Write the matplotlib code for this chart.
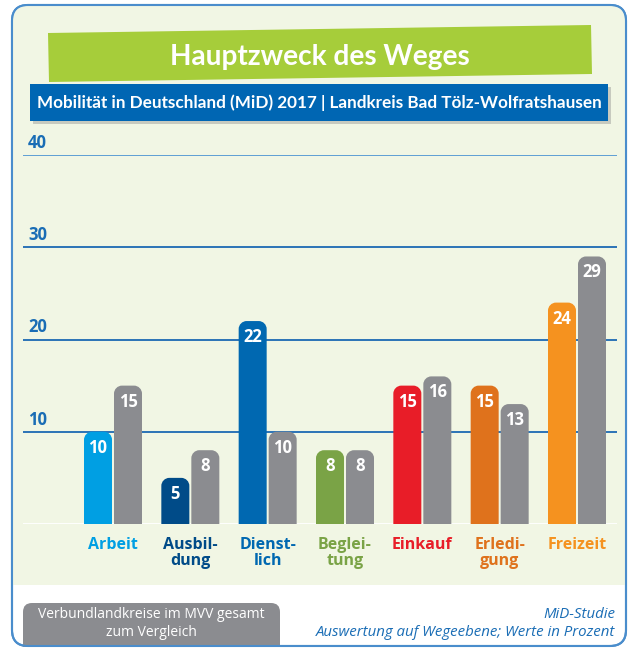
import numpy as np
import matplotlib
matplotlib.use('Agg')
import matplotlib.pyplot as plt
from matplotlib.path import Path
from matplotlib.patches import PathPatch, Polygon, FancyBboxPatch, Rectangle

# Daten (Werte in Prozent)
kategorien = ['Arbeit', 'Ausbil-\ndung', 'Dienst-\nlich', 'Beglei-\ntung',
              'Einkauf', 'Erledi-\ngung', 'Freizeit']
landkreis = [10, 5, 22, 8, 15, 15, 24]
mvv_gesamt = [15, 8, 10, 8, 16, 13, 29]
farben = ['#009fe3', '#004b88', '#0068b1', '#7aa346',
          '#e81d28', '#df721c', '#f5921f']
grau = '#8b8c90'
y_ticks = [10, 20, 30, 40]

W, H = 630, 650
plt.rcParams['font.family'] = ['Open Sans', 'DejaVu Sans']
fig = plt.figure(figsize=(W / 100, H / 100), dpi=100)
renderer = fig.canvas.get_renderer()


def auf_breite(txt, breite_px):
    # Schriftgröße so anpassen, dass der Text die Zielbreite hat
    for _ in range(3):
        b = txt.get_window_extent(renderer).width
        txt.set_fontsize(txt.get_fontsize() * breite_px / b)


# Hintergrund-Ebene in Pixelkoordinaten
bg = fig.add_axes([0, 0, 1, 1])
bg.set_xlim(0, W)
bg.set_ylim(H, 0)
bg.axis('off')
bg.add_patch(FancyBboxPatch((12, 5), 614, 641, boxstyle='round,pad=0,rounding_size=16',
                            fc='white', ec='#4a8dcc', lw=1.5, zorder=0))
bg.add_patch(FancyBboxPatch((12.8, 5.8), 612.4, 579, boxstyle='round,pad=0,rounding_size=15',
                            fc='#f1f6e4', ec='none', zorder=0.5))
bg.add_patch(Rectangle((12.8, 560), 612.4, 25, fc='#f1f6e4', ec='none', zorder=0.5))

# Titel-Banner
schmal = dict(family=['Lato', 'DejaVu Sans'], fontweight='bold')
bg.add_patch(Polygon([(48, 33), (591, 25), (592, 74), (49, 82)], closed=True,
                     fc='#a6cd3a', ec='none', zorder=1))
titel = bg.text(320, 57, 'Hauptzweck des Weges', color='white', fontsize=24,
                ha='center', va='center', zorder=3, **schmal)
auf_breite(titel, 300)
bg.add_patch(Rectangle((33, 87), 578, 37, fc='#7a7a7a', ec='none', alpha=0.35, zorder=1.5))
bg.add_patch(Rectangle((30, 84), 578, 37, fc='#0066b3', ec='none', zorder=2))
unter = bg.text(319, 103, 'Mobilität in Deutschland (MiD) 2017 | Landkreis Bad Tölz-Wolfratshausen',
                color='white', fontsize=12, ha='center', va='center', zorder=3, **schmal)
auf_breite(unter, 565)

# Fußzeile
bg.add_patch(FancyBboxPatch((23, 603), 257, 60, boxstyle='round,pad=0,rounding_size=9',
                            fc=grau, ec='none', zorder=1, clip_on=True))
bg.text(151, 615, 'Verbundlandkreise im MVV gesamt', color='white', fontsize=10,
        ha='center', va='center', zorder=3)
bg.text(151, 633, 'zum Vergleich', color='white', fontsize=10,
        ha='center', va='center', zorder=3)
bg.text(615, 615, 'MiD-Studie', color='#1a6db5', fontsize=10.8, style='italic',
        ha='right', va='center', zorder=3)
bg.text(615, 633, 'Auswertung auf Wegeebene; Werte in Prozent', color='#1a6db5',
        fontsize=10.8, style='italic', ha='right', va='center', zorder=3)
# untere Rahmenlinie über den grauen Kasten legen
bg.add_patch(FancyBboxPatch((12, 5), 614, 641, boxstyle='round,pad=0,rounding_size=16',
                            fc='none', ec='#4a8dcc', lw=1.5, zorder=4))
bg.add_patch(Rectangle((0, 646.8), W, 4, fc='white', ec='none', zorder=3.5))

# Diagramm-Achse: x 23..617 px, y 155..524 px
x0, x1, ytop, ybot = 23, 617, 155, 524
ax = fig.add_axes([x0 / W, 1 - ybot / H, (x1 - x0) / W, (ybot - ytop) / H])
ax.patch.set_alpha(0)
ax.axis('off')
px_x = (577 - 113) / 6.0
ax.set_xlim(-(113 - x0) / px_x, 6 + (x1 - 577) / px_x)
ax.set_ylim(0, 40)
px_y = (ybot - ytop) / 40.0

for t in y_ticks:
    ax.axhline(t, color='#2b73b6' if t < 40 else '#5f9fd4', lw=1.4, zorder=1)
    ax.text((28 - x0) / (x1 - x0), t + 3 / px_y, str(t), transform=ax.get_yaxis_transform(),
            color='#1a6db5', fontsize=12, fontweight='bold', ha='left', va='bottom')
ax.axhline(0, color='white', lw=2, zorder=1)

bw = 28 / px_x
off = 15 / px_x
rx, ry = 8 / px_x, 8 / px_y
k = 0.5523


def runde_saeule(xc, h, farbe):
    a, b = xc - bw / 2, xc + bw / 2
    ryy = min(ry, h)
    verts = [(a, 0), (a, h - ryy),
             (a, h - ryy + k * ryy), (a + rx - k * rx, h), (a + rx, h),
             (b - rx, h),
             (b - rx + k * rx, h), (b, h - ryy + k * ryy), (b, h - ryy),
             (b, 0), (a, 0)]
    codes = [Path.MOVETO, Path.LINETO,
             Path.CURVE4, Path.CURVE4, Path.CURVE4,
             Path.LINETO,
             Path.CURVE4, Path.CURVE4, Path.CURVE4,
             Path.LINETO, Path.CLOSEPOLY]
    ax.add_patch(PathPatch(Path(verts, codes), fc=farbe, ec='none', zorder=2))


for i, (kat, v1, v2, f) in enumerate(zip(kategorien, landkreis, mvv_gesamt, farben)):
    runde_saeule(i - off, v1, f)
    runde_saeule(i + off, v2, grau)
    for xc, v in ((i - off, v1), (i + off, v2)):
        ax.text(xc, v - 16 / px_y, str(v), color='white', fontsize=12, fontweight='bold',
                ha='center', va='center', zorder=3)
    ax.text(i, -13 / px_y, kat, color=f, fontsize=11.5, fontweight='bold',
            ha='center', va='top', linespacing=1.0, clip_on=False, zorder=3)

fig.savefig('out.png', dpi=100)
